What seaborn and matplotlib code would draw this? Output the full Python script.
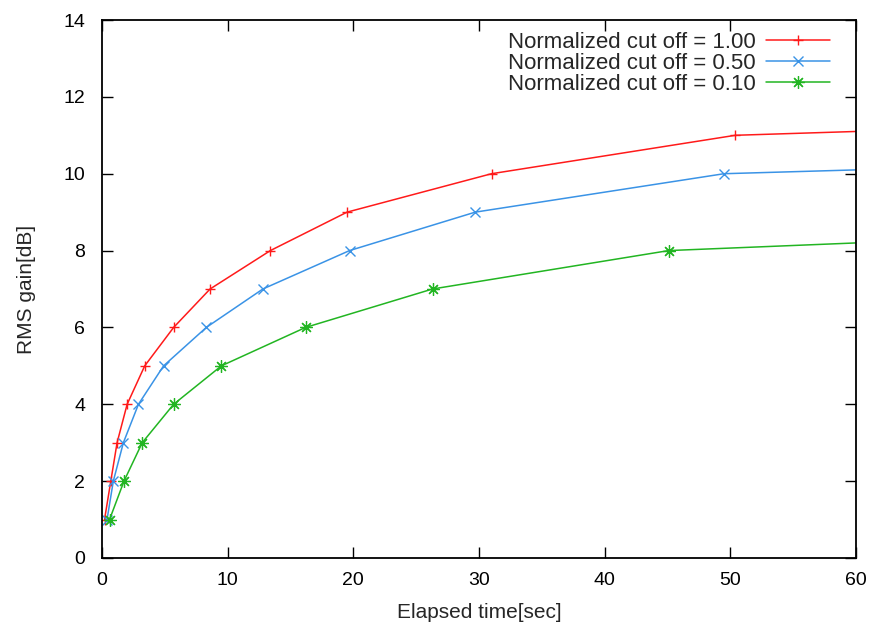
import matplotlib
matplotlib.use("Agg")
import matplotlib.pyplot as plt
import seaborn as sns
import pandas as pd

# Data (last point of each series lies beyond the x range)
time_cut100 = [0.2, 0.7, 1.2, 2.0, 3.4, 5.7, 8.6, 13.4, 19.5, 31.0, 50.4, 147.0]
gain_cut100 = [1, 2, 3, 4, 5, 6, 7, 8, 9, 10, 11, 12]

time_cut050 = [0.4, 0.9, 1.7, 2.9, 4.9, 8.3, 12.8, 19.7, 29.7, 49.5, 155.0]
gain_cut050 = [1, 2, 3, 4, 5, 6, 7, 8, 9, 10, 11]

time_cut010 = [0.6, 1.75, 3.2, 5.7, 9.5, 16.2, 26.3, 45.1, 120.0]
gain_cut010 = [1, 2, 3, 4, 5, 6, 7, 8, 9]

labels = ["Normalized cut off = 1.00", "Normalized cut off = 0.50", "Normalized cut off = 0.10"]
x_ticks = [0, 10, 20, 30, 40, 50, 60]
y_ticks = [0, 2, 4, 6, 8, 10, 12, 14]

sns.set_style("ticks")
plt.rcParams['font.family'] = ['Liberation Sans', 'DejaVu Sans']

frames = []
for lab, xs, ys in zip(labels, [time_cut100, time_cut050, time_cut010],
                       [gain_cut100, gain_cut050, gain_cut010]):
    frames.append(pd.DataFrame({"time": xs, "gain": ys, "series": lab}))
df = pd.concat(frames, ignore_index=True)

fig = plt.figure(figsize=(8.72, 6.24), dpi=100)
ax = fig.add_axes([102 / 872, 1 - 558 / 624, 754 / 872, 538 / 624])

palette = {labels[0]: "#ff1a1a", labels[1]: "#3a93e6", labels[2]: "#22b522"}
markers = {labels[0]: "+", labels[1]: "x", labels[2]: (8, 2, 0)}

sns.lineplot(data=df, x="time", y="gain", hue="series", style="series",
             palette=palette, markers=markers, dashes=False, sort=False,
             markersize=7.5, markeredgewidth=1.0, linewidth=1.1, ax=ax,
             hue_order=labels, style_order=labels)

for line in ax.lines:
    line.set_markeredgecolor(line.get_color())
    line.set_markerfacecolor(line.get_color())
    if line.get_label() == labels[2] or line is ax.lines[2]:
        line.set_markersize(9)
        line.set_markeredgewidth(0.9)

ax.set_xlim(0, 60)
ax.set_ylim(0, 14)
ax.set_xticks(x_ticks)
ax.set_yticks(y_ticks)
ax.tick_params(axis="both", direction="in", length=8, width=1, top=True, right=True,
               labelsize=14, colors="black")
ax.tick_params(axis="y", pad=12)
ax.tick_params(axis="x", pad=10)
for s in ax.spines.values():
    s.set_linewidth(1.3)
    s.set_color("black")
    s.set_visible(True)
ax.set_xlabel("Elapsed time[sec]", fontsize=15, labelpad=10)
ax.set_ylabel("RMS gain[dB]", fontsize=15, labelpad=20)

leg = ax.legend(loc="upper right", bbox_to_anchor=(0.9775, 0.995), frameon=False,
                markerfirst=False, fontsize=16, handlelength=2.9, handletextpad=0.45,
                labelspacing=0.0, borderaxespad=0.0)
for h, line in zip(leg.legend_handles, ax.lines):
    h.set_markeredgecolor(line.get_color())
    h.set_markerfacecolor(line.get_color())
    h.set_markersize(line.get_markersize())

fig.savefig("out.png", dpi=100)
